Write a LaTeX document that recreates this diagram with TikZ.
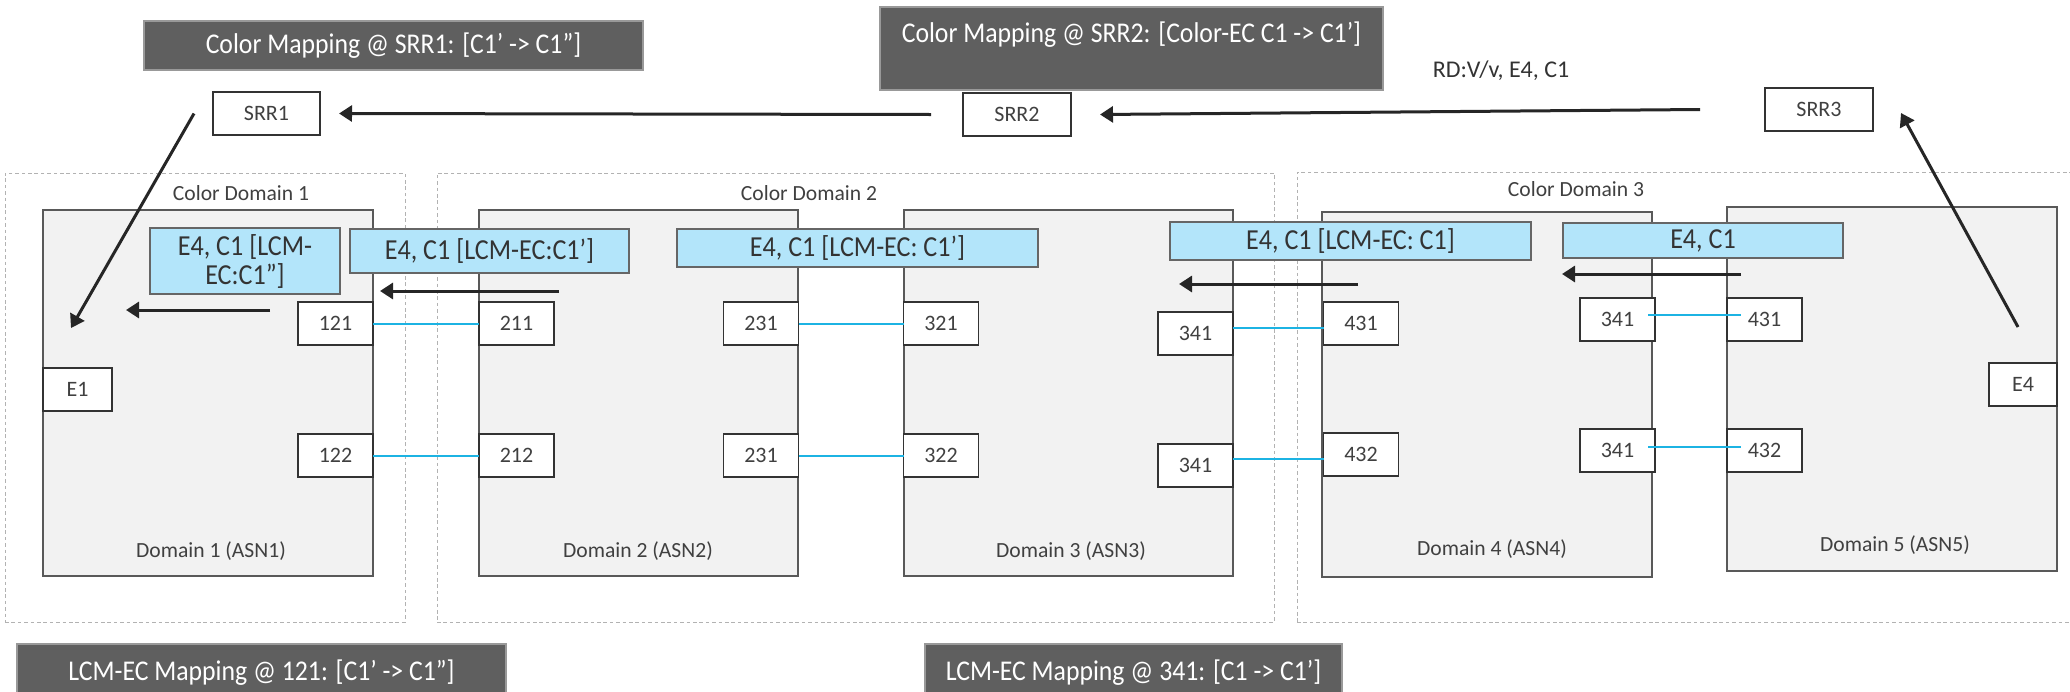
\documentclass[tikz,border=0pt]{standalone}
\usepackage{fontspec}
\setmainfont{Carlito}
\newfontfamily\condfont[FakeStretch=0.9]{Carlito}
\usetikzlibrary{arrows.meta}

\definecolor{mapgray}{HTML}{5F5F5F}
\definecolor{lcmblue}{HTML}{B3E5FA}
\definecolor{domfill}{HTML}{F2F2F2}
\definecolor{domline}{HTML}{595959}
\definecolor{txtgray}{HTML}{404040}
\definecolor{linkcyan}{HTML}{1CB3E3}
\definecolor{flowblack}{HTML}{262626}

\begin{document}
\begin{tikzpicture}[x=0.5pt, y=-0.5pt,
    mapbox/.style={fill=mapgray, draw=black!40, line width=0.6pt, text=white, inner sep=0pt, outer sep=0pt,
                   font=\condfont\fontsize{14.3}{16}\selectfont},
    routebox/.style={fill=lcmblue, draw=black!60, line width=1pt, text=black!80, inner sep=0pt, outer sep=0pt,
                     align=center, font=\condfont\fontsize{14.5}{14.5}\selectfont},
    colordom/.style={draw=black!30, line width=0.5pt, dash pattern=on 1.8pt off 1.4pt,
                     inner sep=0pt, outer sep=0pt},
    asbox/.style={fill=domfill, draw=domline, line width=1.2pt, inner sep=0pt, outer sep=0pt},
    rtr/.style={fill=white, draw=black!80, line width=0.9pt, text=txtgray, inner sep=0pt, outer sep=0pt,
                minimum width=37.5pt, minimum height=21.5pt, font=\fontsize{11}{12}\selectfont},
    lbl/.style={text=txtgray, font=\fontsize{10.8}{12}\selectfont},
    link/.style={draw=linkcyan, line width=1pt},
    flow/.style={draw=flowblack, line width=1.5pt, -{Triangle[length=6.5pt,width=8pt]}}
]
\useasboundingbox (0,0) rectangle (2070,691);

% color domains
\node(cd1) at(205, 397.5)  [colordom, minimum width=200pt,   minimum height=224.5pt] {};
\node(cd2) at(855.5, 397.5) [colordom, minimum width=418.5pt, minimum height=224.5pt] {};
\node(cd3) at(1698.5, 397) [colordom, minimum width=401.5pt, minimum height=225pt] {};
\node(cd1lbl) at(241, 193)  [lbl] {Color Domain 1};
\node(cd2lbl) at(809, 193)  [lbl] {Color Domain 2};
\node(cd3lbl) at(1576, 189) [lbl] {Color Domain 3};

% domains
\node(d1) at(208, 393)    [asbox, minimum width=165pt,   minimum height=183pt] {};
\node(d2) at(638.5, 393)  [asbox, minimum width=159.5pt, minimum height=183pt] {};
\node(d3) at(1068.5, 393) [asbox, minimum width=164.5pt, minimum height=183pt] {};
\node(d4) at(1487, 394.5) [asbox, minimum width=165pt,   minimum height=182.5pt] {};
\node(d5) at(1892, 389)   [asbox, minimum width=165pt,   minimum height=182pt] {};
\node(d1lbl) at(211, 551)  [lbl] {Domain 1 (ASN1)};
\node(d2lbl) at(638, 551)  [lbl] {Domain 2 (ASN2)};
\node(d3lbl) at(1071, 551) [lbl] {Domain 3 (ASN3)};
\node(d4lbl) at(1492, 549) [lbl] {Domain 4 (ASN4)};
\node(d5lbl) at(1895, 545) [lbl] {Domain 5 (ASN5)};

% mapping notes
\node(t1) at(393.5, 45.5) [mapbox, minimum width=249.5pt, minimum height=24.5pt] {Color Mapping @ SRR1: [C1’ -> C1”]};
\node(t2) at(1131.5, 48.5) [mapbox, minimum width=251.5pt, minimum height=41.5pt, align=left]
    {Color Mapping @ SRR2: [Color-EC C1 -> C1’]\\ \mbox{}};
\node(t3) at(261.5, 673) [mapbox, minimum width=244.5pt, minimum height=29pt] {LCM-EC Mapping @ 121: [C1’ -> C1”]};
\node(t4) at(1133.5, 673) [mapbox, minimum width=208.5pt, minimum height=29pt] {LCM-EC Mapping @ 341: [C1 -> C1’]};
\node(rdlbl) at(1501, 71) [text=black!80, font=\fontsize{12}{14}\selectfont] {RD:V/v, E4, C1};

% route reflectors
\node(srr1) at(266.5, 113.5) [rtr, minimum width=53.5pt] {SRR1};
\node(srr2) at(1017, 114.5)  [rtr, minimum width=54pt] {SRR2};
\node(srr3) at(1819, 109.5)  [rtr, minimum width=54pt] {SRR3};

% advertised routes
\node(b1) at(245, 261)     [routebox, minimum width=95pt,    minimum height=33pt] {E4, C1 [LCM-\\EC:C1”]};
\node(b2) at(489.5, 251)   [routebox, minimum width=139.5pt, minimum height=22pt] {E4, C1 [LCM-EC:C1’]};
\node(b3) at(857.5, 248)   [routebox, minimum width=180.5pt, minimum height=19pt] {E4, C1 [LCM-EC: C1’]};
\node(b4) at(1350.5, 241)  [routebox, minimum width=180.5pt, minimum height=19pt] {E4, C1 [LCM-EC: C1]};
\node(b5) at(1703, 240.5)  [routebox, minimum width=140pt,   minimum height=17.5pt] {E4, C1};

% border routers
\node(e1)    at(77.5, 389.5)   [rtr, minimum width=34.5pt] {E1};
\node(n121)  at(335.5, 323.5)  [rtr] {121};
\node(n122)  at(335.5, 455.5)  [rtr] {122};
\node(n211)  at(516.5, 323.5)  [rtr] {211};
\node(n212)  at(516.5, 455.5)  [rtr] {212};
\node(n231a) at(761, 323.5)    [rtr] {231};
\node(n231b) at(761, 455.5)    [rtr] {231};
\node(n321)  at(941, 323.5)    [rtr] {321};
\node(n322)  at(941, 455.5)    [rtr] {322};
\node(n341a) at(1195.5, 333.5) [rtr] {341};
\node(n341b) at(1195.5, 465.5) [rtr] {341};
\node(n431a) at(1361, 323.5)   [rtr] {431};
\node(n432a) at(1361, 454.5)   [rtr] {432};
\node(n341c) at(1617.5, 319.5) [rtr] {341};
\node(n341d) at(1617.5, 450.5) [rtr] {341};
\node(n431b) at(1764.5, 319.5) [rtr] {431};
\node(n432b) at(1764.5, 450.5) [rtr] {432};
\node(e4)    at(2023, 384.5)   [rtr, minimum width=34pt] {E4};

% links
\draw[link] (n121.east) -- (n211.west);
\draw[link] (n122.east) -- (n212.west);
\draw[link] (n231a.east) -- (n321.west);
\draw[link] (n231b.east) -- (n322.west);
\draw[link] (n341a.east) ++(0,-5.5) coordinate(l3a) -- (l3a -| n431a.west);
\draw[link] (n341b.east) ++(0,-6.5) coordinate(l3b) -- (l3b -| n432a.west);
\draw[link, shorten <=-3.5pt, shorten >=-7pt] (n341c.east) ++(0,-4.5) coordinate(l4a) -- (l4a -| n431b.west);
\draw[link, shorten <=-3.5pt, shorten >=-7pt] (n341d.east) ++(0,-3.5) coordinate(l4b) -- (l4b -| n432b.west);

% route flow
\coordinate(e1in) at(71, 328);
\coordinate(f1s) at(270, 310);  \coordinate(f1e) at(126, 310);
\coordinate(f2s) at(559, 291);  \coordinate(f2e) at(380, 291);
\coordinate(f3s) at(1358, 284); \coordinate(f3e) at(1179, 284);
\coordinate(f4s) at(1741, 274); \coordinate(f4e) at(1562, 274);
\draw[flow] ([xshift=-2.5pt, yshift=18pt]e4.north) -- ([xshift=14pt, yshift=-1.75pt]srr3.east);
\draw[flow] ([xshift=-32.5pt]srr3.west) -- ([xshift=14.5pt]srr2.east);
\draw[flow] ([xshift=-16pt]srr2.west) -- ([xshift=9.5pt]srr1.east);
\draw[flow] ([xshift=-9.5pt]srr1.west) -- (e1in);
\draw[flow] (f4s) -- (f4e);
\draw[flow] (f3s) -- (f3e);
\draw[flow] (f2s) -- (f2e);
\draw[flow] (f1s) -- (f1e);
\end{tikzpicture}
\end{document}
